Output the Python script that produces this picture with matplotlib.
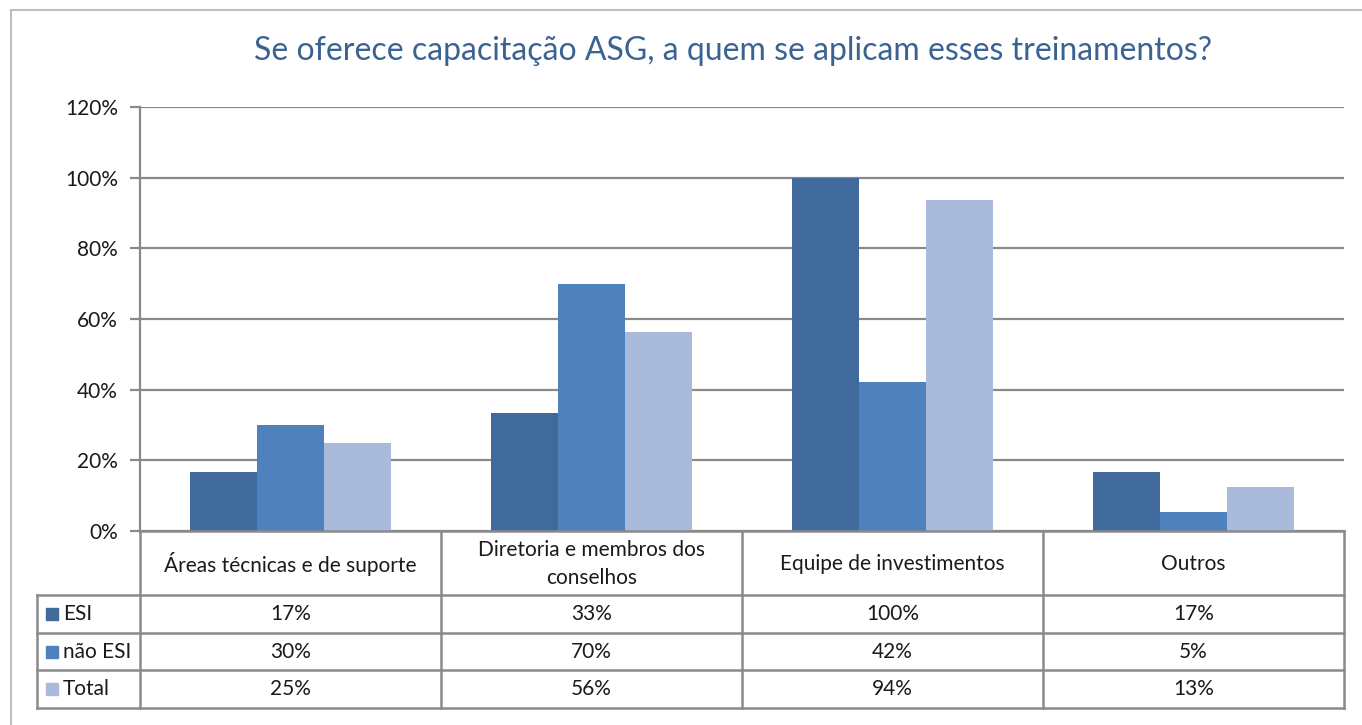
import matplotlib
matplotlib.use("Agg")
import matplotlib.pyplot as plt
from matplotlib.transforms import blended_transform_factory
from matplotlib.patches import Rectangle

plt.rcParams['font.family'] = ['Lato', 'DejaVu Sans']

title = "Se oferece capacitação ASG, a quem se aplicam esses treinamentos?"
categories = ["Áreas técnicas e de suporte", "Diretoria e membros dos\nconselhos",
              "Equipe de investimentos", "Outros"]
series_names = ["ESI", "não ESI", "Total"]
esi = [16.7, 33.3, 100.0, 16.7]
nao_esi = [30.0, 70.0, 42.1, 5.3]
total = [25.0, 56.3, 93.8, 12.5]
series_values = [esi, nao_esi, total]
colors = ["#3F6A9B", "#4F81BD", "#AABADA"]
yticks = [0, 20, 40, 60, 80, 100, 120]

W, H = 1362, 725
fig = plt.figure(figsize=(W / 100, H / 100), dpi=100)
fig.patch.set_facecolor("white")

grid_c = "#898989"
text_c = "#1A1A1A"
fs = 15

# main axes (pixel layout)
L, R, T, B = 140, 1344, 107, 531
ax = fig.add_axes([L / W, 1 - B / H, (R - L) / W, (B - T) / H])
ax.set_xlim(-0.5, len(categories) - 0.5)
ax.set_ylim(0, 120)
bw = 67 / 301
n = len(series_names)
for i, (name, vals, c) in enumerate(zip(series_names, series_values, colors)):
    xs = [k + (i - (n - 1) / 2) * bw for k in range(len(categories))]
    ax.bar(xs, vals, width=bw, color=c, edgecolor=c, linewidth=0, zorder=3, label=name)

ax.set_yticks(yticks)
ax.set_yticklabels([f"{v}%" for v in yticks], fontsize=fs, color=text_c)
ax.set_xticks([])
ax.yaxis.grid(True, color=grid_c, linewidth=1.6, zorder=1)
ax.set_axisbelow(True)
for s in ["top", "right", "bottom"]:
    ax.spines[s].set_visible(False)
ax.spines["left"].set_color(grid_c)
ax.spines["left"].set_linewidth(1.6)
ax.tick_params(axis="y", length=7, width=1.6, color=grid_c, pad=9)

# overlay axes in pixel coordinates for table
tax = fig.add_axes([0, 0, 1, 1], zorder=5)
tax.set_xlim(0, W)
tax.set_ylim(H, 0)
tax.axis("off")
tr = blended_transform_factory(ax.transData, tax.transData)

# outer chart border
tax.plot([11, W], [10, 10], color="#BDBDBD", lw=1.5)
tax.plot([11, 11], [10, H], color="#BDBDBD", lw=1.5)

# title
tax.text(733, 51, title, ha="center", va="center", fontsize=23, color="#3A6293")

row_y = [595, 633, 670, 708]
x_leg = 37
lc = "#8A8A8A"
lw = 1.8
tax.plot([L, R], [B, B], color=lc, lw=lw)
for y in row_y:
    tax.plot([x_leg, R], [y, y], color=lc, lw=lw)
for k in range(len(categories) + 1):
    tax.plot([k - 0.5, k - 0.5], [B, row_y[-1]], color=lc, lw=lw, transform=tr)
tax.plot([x_leg, x_leg], [row_y[0], row_y[-1]], color=lc, lw=lw)

# header
for k, cat in enumerate(categories):
    tax.text(k, (B + row_y[0]) / 2 + 1, cat, ha="center", va="center", fontsize=fs,
             color=text_c, transform=tr, linespacing=1.45)

# rows
for i, (name, vals, c) in enumerate(zip(series_names, series_values, colors)):
    yc = (row_y[i] + row_y[i + 1]) / 2
    tax.add_patch(Rectangle((46, yc - 6), 12, 12, color=c))
    tax.text(63, yc, name, ha="left", va="center", fontsize=fs, color=text_c)
    for k, v in enumerate(vals):
        tax.text(k, yc, f"{int(v + 0.5)}%", ha="center", va="center", fontsize=fs,
                 color=text_c, transform=tr)

fig.savefig("out.png", dpi=100, facecolor="white")
